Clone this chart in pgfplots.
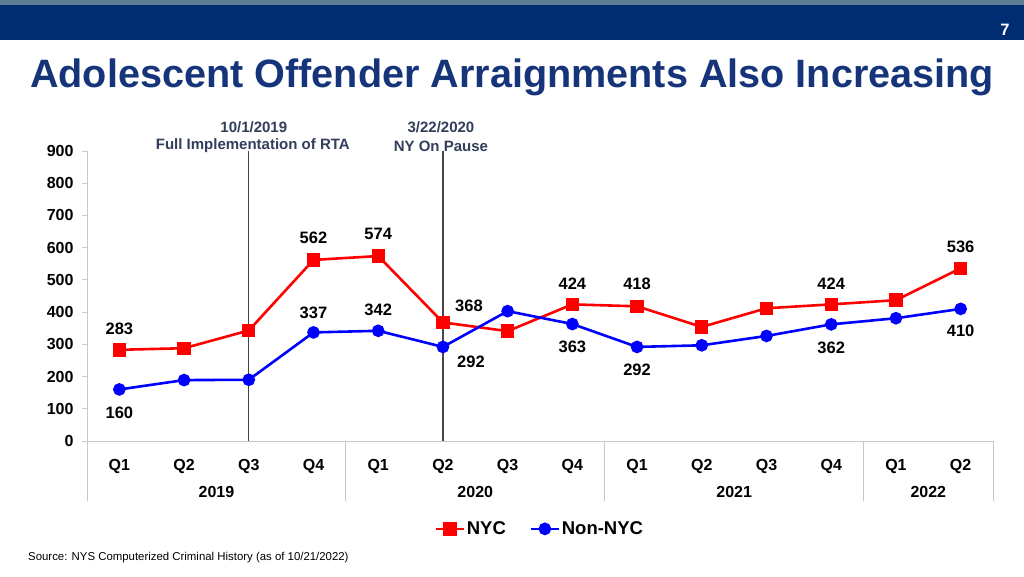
\documentclass[border=0pt]{standalone}
\usepackage{pgfplots}
\pgfplotsset{compat=1.18}
\usepackage{fontspec}
\setmainfont{Liberation Sans}
\definecolor{navy}{RGB}{0,45,114}
\definecolor{titlecol}{RGB}{22,52,122}
\definecolor{stripe}{RGB}{96,125,150}
\definecolor{annot}{RGB}{50,62,90}
\definecolor{axgray}{RGB}{200,200,200}
\definecolor{vline}{RGB}{70,70,70}
\definecolor{myred}{RGB}{255,0,0}
\definecolor{myblue}{RGB}{0,0,255}
\begin{document}
\begin{tikzpicture}[x=1pt,y=1pt]
\path[use as bounding box, fill=white] (0,0) rectangle (1024,576);
\fill[stripe] (0,571) rectangle (1024,576);
\fill[navy] (0,536) rectangle (1024,571);
\node[white, font=\fontsize{16.5}{18}\selectfont\bfseries] at (1005,546) {7};
\node[anchor=base west, inner sep=0, text=titlecol, font=\fontsize{39.6}{44}\selectfont\bfseries] at (30,488) {Adolescent Offender Arraignments Also Increasing};
\node[anchor=base west, inner sep=0, font=\fontsize{11.4}{13}\selectfont] at (28,16) {Source: NYS Computerized Criminal History (as of 10/21/2022)};
\begin{axis}[
 at={(87pt,135pt)}, anchor=south west,
 scale only axis, width=906pt, height=290pt,
 xmin=-0.5, xmax=13.5, ymin=0, ymax=900,
 ytick={0,100,...,900},
 xtick={0,...,13},
 xticklabels={Q1,Q2,Q3,Q4,Q1,Q2,Q3,Q4,Q1,Q2,Q3,Q4,Q1,Q2},
 axis x line*=bottom, axis y line*=left,
 axis line style={axgray, line width=1pt, -},
 x tick style={draw=none},
 y tick style={axgray, line width=1pt},
 tick align=outside, major tick length=5pt,
 ticklabel style={font=\fontsize{16}{18}\selectfont\bfseries},
 /pgf/number format/assume math mode=true,
 xticklabel style={yshift=-10pt},
 yticklabel style={xshift=-5pt},
 clip=false,
 legend style={at={(0.5,-0.303)}, anchor=center, draw=none, fill=none, legend columns=2, font=\fontsize{18.5}{20}\selectfont\bfseries, /tikz/every even column/.append style={column sep=22pt}},
 legend image code/.code={\draw[mark repeat=2,mark phase=2] plot coordinates {(0cm,0cm) (0.48cm,0cm) (0.96cm,0cm)};},
]
\draw[vline, line width=1.2pt] (axis cs:2,0) -- (axis cs:2,900);
\draw[vline, line width=1.2pt] (axis cs:5,0) -- (axis cs:5,900);
\draw[axgray, line width=1pt] (axis cs:-0.5,0) -- ([yshift=-60pt]axis cs:-0.5,0);
\draw[axgray, line width=1pt] (axis cs:3.5,0) -- ([yshift=-60pt]axis cs:3.5,0);
\draw[axgray, line width=1pt] (axis cs:7.5,0) -- ([yshift=-60pt]axis cs:7.5,0);
\draw[axgray, line width=1pt] (axis cs:11.5,0) -- ([yshift=-60pt]axis cs:11.5,0);
\draw[axgray, line width=1pt] (axis cs:13.5,0) -- ([yshift=-60pt]axis cs:13.5,0);
\node[font=\fontsize{16}{18}\selectfont\bfseries] at (axis cs:1.5,0) [yshift=-51pt] {2019};
\node[font=\fontsize{16}{18}\selectfont\bfseries] at (axis cs:5.5,0) [yshift=-51pt] {2020};
\node[font=\fontsize{16}{18}\selectfont\bfseries] at (axis cs:9.5,0) [yshift=-51pt] {2021};
\node[font=\fontsize{16}{18}\selectfont\bfseries] at (axis cs:12.5,0) [yshift=-51pt] {2022};
\node[annot, font=\fontsize{15}{17}\selectfont\bfseries] at (axis cs:2,900) [xshift=5pt, yshift=24pt] {10/1/2019};
\node[annot, font=\fontsize{15}{17}\selectfont\bfseries] at (axis cs:2,900) [xshift=4pt, yshift=5pt] {Full Implementation of RTA};
\node[annot, font=\fontsize{15}{17}\selectfont\bfseries] at (axis cs:5,900) [xshift=-2pt, yshift=24pt] {3/22/2020};
\node[annot, font=\fontsize{15}{17}\selectfont\bfseries] at (axis cs:5,900) [xshift=-2pt, yshift=5pt] {NY On Pause};
\addplot[myred, line width=2.6pt, mark=square*, mark size=5.4pt, mark options={solid}] coordinates {(0,283)(1,288)(2,343)(3,562)(4,574)(5,368)(6,341)(7,424)(8,418)(9,354)(10,412)(11,424)(12,437)(13,536)};
\addlegendentry{NYC}
\addplot[myblue, line width=2.6pt, mark=*, mark size=5pt, mark options={solid}] coordinates {(0,160)(1,189)(2,190)(3,337)(4,342)(5,292)(6,403)(7,363)(8,292)(9,297)(10,326)(11,362)(12,381)(13,410)};
\addlegendentry{Non-NYC}
\begin{scope}[every node/.style={font=\fontsize{16.5}{18}\selectfont\bfseries}]
\node at (axis cs:0,283) [yshift=21pt] {283};
\node at (axis cs:0,160) [yshift=-23pt] {160};
\node at (axis cs:3,562) [yshift=22pt] {562};
\node at (axis cs:4,574) [yshift=22pt] {574};
\node at (axis cs:3,337) [yshift=20pt] {337};
\node at (axis cs:4,342) [yshift=21pt] {342};
\node at (axis cs:5,368) [xshift=26pt, yshift=17pt] {368};
\node at (axis cs:5,292) [xshift=28pt, yshift=-15pt] {292};
\node at (axis cs:7,424) [yshift=21pt] {424};
\node at (axis cs:7,363) [yshift=-23pt] {363};
\node at (axis cs:8,418) [yshift=22pt] {418};
\node at (axis cs:8,292) [yshift=-23pt] {292};
\node at (axis cs:11,424) [yshift=21pt] {424};
\node at (axis cs:11,362) [yshift=-23pt] {362};
\node at (axis cs:13,536) [yshift=21pt] {536};
\node at (axis cs:13,410) [yshift=-22pt] {410};
\end{scope}
\end{axis}
\end{tikzpicture}
\end{document}
